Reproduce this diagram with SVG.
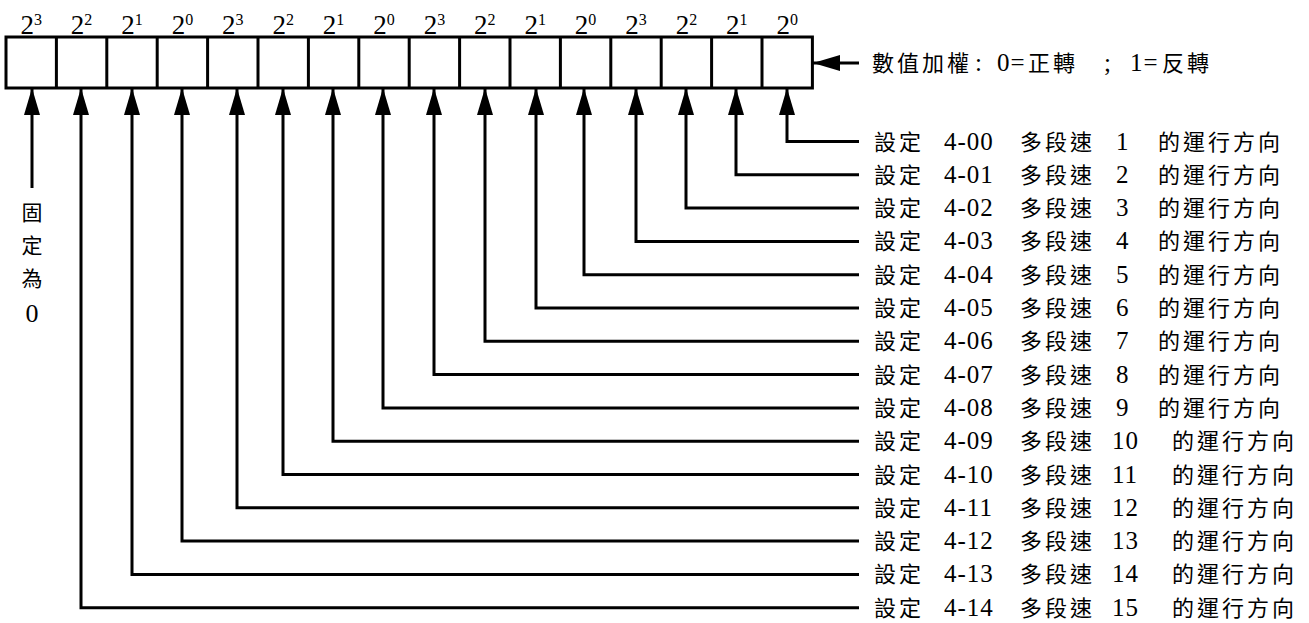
<svg xmlns="http://www.w3.org/2000/svg" width="1309" height="623" viewBox="0 0 1309 623">
<style>
.box{fill:#fff;stroke:#000;stroke-width:3}
.ln{fill:none;stroke:#000;stroke-width:3}
.pw{font-family:"Liberation Serif","Times New Roman","DejaVu Serif",serif;font-size:27px;fill:#000;text-anchor:middle}
.sup{font-size:16px}
.lb text{fill:#000}
.cj{font-family:"Noto Sans CJK TC",sans-serif;font-size:22px;letter-spacing:3px}
.dg{font-family:"Liberation Serif","Times New Roman","DejaVu Serif",serif;font-size:25px;letter-spacing:1px}
.vt{font-family:"Noto Sans CJK TC",sans-serif;font-size:21px;fill:#000;text-anchor:middle}
.vd{font-family:"Liberation Serif","Times New Roman","DejaVu Serif",serif;font-size:26px;fill:#000;text-anchor:middle}
</style>
<defs>
<marker id="ah" viewBox="0 0 27 16" refX="27" refY="8" markerWidth="27" markerHeight="16" markerUnits="userSpaceOnUse" orient="auto">
<path d="M0,0 L27,8 L0,16 Z" fill="#000"/>
</marker>
</defs>
<g id="register">
<rect class="box" x="6" y="37" width="806.4" height="51"/>
<path class="ln" d="M56.4,37V88M106.8,37V88M157.2,37V88M207.6,37V88M258,37V88M308.4,37V88M358.8,37V88M409.2,37V88M459.6,37V88M510,37V88M560.4,37V88M610.8,37V88M661.2,37V88M711.6,37V88M762,37V88"/>
</g>
<g id="weights">
<text class="pw" x="31.2" y="34">2<tspan class="sup" dy="-9">3</tspan></text>
<text class="pw" x="81.6" y="34">2<tspan class="sup" dy="-9">2</tspan></text>
<text class="pw" x="132" y="34">2<tspan class="sup" dy="-9">1</tspan></text>
<text class="pw" x="182.4" y="34">2<tspan class="sup" dy="-9">0</tspan></text>
<text class="pw" x="232.8" y="34">2<tspan class="sup" dy="-9">3</tspan></text>
<text class="pw" x="283.2" y="34">2<tspan class="sup" dy="-9">2</tspan></text>
<text class="pw" x="333.6" y="34">2<tspan class="sup" dy="-9">1</tspan></text>
<text class="pw" x="384" y="34">2<tspan class="sup" dy="-9">0</tspan></text>
<text class="pw" x="434.4" y="34">2<tspan class="sup" dy="-9">3</tspan></text>
<text class="pw" x="484.8" y="34">2<tspan class="sup" dy="-9">2</tspan></text>
<text class="pw" x="535.2" y="34">2<tspan class="sup" dy="-9">1</tspan></text>
<text class="pw" x="585.6" y="34">2<tspan class="sup" dy="-9">0</tspan></text>
<text class="pw" x="636" y="34">2<tspan class="sup" dy="-9">3</tspan></text>
<text class="pw" x="686.4" y="34">2<tspan class="sup" dy="-9">2</tspan></text>
<text class="pw" x="736.8" y="34">2<tspan class="sup" dy="-9">1</tspan></text>
<text class="pw" x="787.2" y="34">2<tspan class="sup" dy="-9">0</tspan></text>
</g>
<g id="connectors">
<path class="ln" marker-end="url(#ah)" d="M859,63H813"/>
<path class="ln" marker-end="url(#ah)" d="M32,188V88"/>
<path class="ln" marker-end="url(#ah)" d="M859,141.5H787V88"/>
<path class="ln" marker-end="url(#ah)" d="M859,174.8H736V88"/>
<path class="ln" marker-end="url(#ah)" d="M859,208.1H686V88"/>
<path class="ln" marker-end="url(#ah)" d="M859,241.4H636V88"/>
<path class="ln" marker-end="url(#ah)" d="M859,274.7H584V88"/>
<path class="ln" marker-end="url(#ah)" d="M859,308H536V88"/>
<path class="ln" marker-end="url(#ah)" d="M859,341.3H485V88"/>
<path class="ln" marker-end="url(#ah)" d="M859,374.6H434V88"/>
<path class="ln" marker-end="url(#ah)" d="M859,407.9H383V88"/>
<path class="ln" marker-end="url(#ah)" d="M859,441.2H333V88"/>
<path class="ln" marker-end="url(#ah)" d="M859,474.5H283V88"/>
<path class="ln" marker-end="url(#ah)" d="M859,507.8H237V88"/>
<path class="ln" marker-end="url(#ah)" d="M859,541.1H182V88"/>
<path class="ln" marker-end="url(#ah)" d="M859,574.4H132V88"/>
<path class="ln" marker-end="url(#ah)" d="M859,607.7H81V88"/>
</g>
<g id="weight-note" class="lb">
<text y="71"><tspan class="cj" x="872">數值加權</tspan><tspan class="dg" x="975">:</tspan><tspan class="dg" x="997">0=</tspan><tspan class="cj" x="1028">正轉</tspan><tspan class="dg" x="1104">;</tspan><tspan class="dg" x="1130">1=</tspan><tspan class="cj" x="1162">反轉</tspan></text>
</g>
<g id="fixed-zero">
<text class="vt" x="32" y="220">固</text>
<text class="vt" x="32" y="253">定</text>
<text class="vt" x="32" y="286">為</text>
<text class="vd" x="32" y="322">0</text>
</g>
<g id="labels" class="lb">
<text y="149.5"><tspan class="cj" x="874">設定</tspan><tspan class="dg" x="944">4-00</tspan><tspan class="cj" x="1020">多段速</tspan><tspan class="dg" x="1116">1</tspan><tspan class="cj" x="1158">的運行方向</tspan></text>
<text y="182.8"><tspan class="cj" x="874">設定</tspan><tspan class="dg" x="944">4-01</tspan><tspan class="cj" x="1020">多段速</tspan><tspan class="dg" x="1116">2</tspan><tspan class="cj" x="1158">的運行方向</tspan></text>
<text y="216.1"><tspan class="cj" x="874">設定</tspan><tspan class="dg" x="944">4-02</tspan><tspan class="cj" x="1020">多段速</tspan><tspan class="dg" x="1116">3</tspan><tspan class="cj" x="1158">的運行方向</tspan></text>
<text y="249.4"><tspan class="cj" x="874">設定</tspan><tspan class="dg" x="944">4-03</tspan><tspan class="cj" x="1020">多段速</tspan><tspan class="dg" x="1116">4</tspan><tspan class="cj" x="1158">的運行方向</tspan></text>
<text y="282.7"><tspan class="cj" x="874">設定</tspan><tspan class="dg" x="944">4-04</tspan><tspan class="cj" x="1020">多段速</tspan><tspan class="dg" x="1116">5</tspan><tspan class="cj" x="1158">的運行方向</tspan></text>
<text y="316"><tspan class="cj" x="874">設定</tspan><tspan class="dg" x="944">4-05</tspan><tspan class="cj" x="1020">多段速</tspan><tspan class="dg" x="1116">6</tspan><tspan class="cj" x="1158">的運行方向</tspan></text>
<text y="349.3"><tspan class="cj" x="874">設定</tspan><tspan class="dg" x="944">4-06</tspan><tspan class="cj" x="1020">多段速</tspan><tspan class="dg" x="1116">7</tspan><tspan class="cj" x="1158">的運行方向</tspan></text>
<text y="382.6"><tspan class="cj" x="874">設定</tspan><tspan class="dg" x="944">4-07</tspan><tspan class="cj" x="1020">多段速</tspan><tspan class="dg" x="1116">8</tspan><tspan class="cj" x="1158">的運行方向</tspan></text>
<text y="415.9"><tspan class="cj" x="874">設定</tspan><tspan class="dg" x="944">4-08</tspan><tspan class="cj" x="1020">多段速</tspan><tspan class="dg" x="1116">9</tspan><tspan class="cj" x="1158">的運行方向</tspan></text>
<text y="449.2"><tspan class="cj" x="874">設定</tspan><tspan class="dg" x="944">4-09</tspan><tspan class="cj" x="1020">多段速</tspan><tspan class="dg" x="1112">10</tspan><tspan class="cj" x="1172">的運行方向</tspan></text>
<text y="482.5"><tspan class="cj" x="874">設定</tspan><tspan class="dg" x="944">4-10</tspan><tspan class="cj" x="1020">多段速</tspan><tspan class="dg" x="1112">11</tspan><tspan class="cj" x="1172">的運行方向</tspan></text>
<text y="515.8"><tspan class="cj" x="874">設定</tspan><tspan class="dg" x="944">4-11</tspan><tspan class="cj" x="1020">多段速</tspan><tspan class="dg" x="1112">12</tspan><tspan class="cj" x="1172">的運行方向</tspan></text>
<text y="549.1"><tspan class="cj" x="874">設定</tspan><tspan class="dg" x="944">4-12</tspan><tspan class="cj" x="1020">多段速</tspan><tspan class="dg" x="1112">13</tspan><tspan class="cj" x="1172">的運行方向</tspan></text>
<text y="582.4"><tspan class="cj" x="874">設定</tspan><tspan class="dg" x="944">4-13</tspan><tspan class="cj" x="1020">多段速</tspan><tspan class="dg" x="1112">14</tspan><tspan class="cj" x="1172">的運行方向</tspan></text>
<text y="615.7"><tspan class="cj" x="874">設定</tspan><tspan class="dg" x="944">4-14</tspan><tspan class="cj" x="1020">多段速</tspan><tspan class="dg" x="1112">15</tspan><tspan class="cj" x="1172">的運行方向</tspan></text>
</g>
</svg>
